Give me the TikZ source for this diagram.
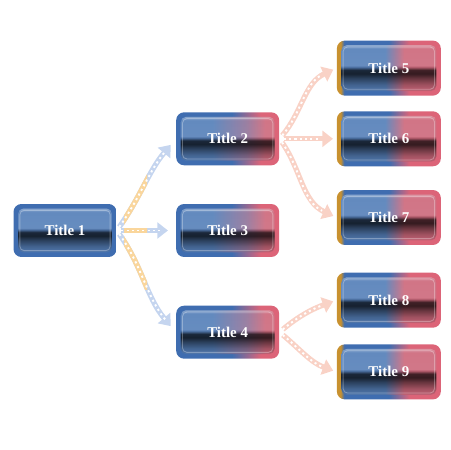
\documentclass[tikz,border=0pt]{standalone}
\usepackage{fontspec}
\setmainfont{Liberation Serif}
\usepackage{tikz}
\usetikzlibrary{arrows.meta,positioning}
\definecolor{rimblue}{HTML}{3F6DB0}
\definecolor{inblue}{HTML}{5A86C2}
\definecolor{rimpink}{HTML}{DC6478}
\definecolor{inpink}{HTML}{D86E82}
\definecolor{rimgold}{HTML}{C8912F}
\definecolor{flowblue}{HTML}{C5D5EF}
\definecolor{floworange}{HTML}{FAD69C}
\definecolor{flowpink}{HTML}{F9D2C6}

\pgfdeclarehorizontalshading{rimplain}{100bp}{color(0bp)=(rimblue); color(100bp)=(rimblue)}
\pgfdeclarehorizontalshading{inplain}{100bp}{color(0bp)=(inblue); color(100bp)=(inblue)}
\pgfdeclarehorizontalshading{rimmix}{100bp}{color(0bp)=(rimblue); color(25bp)=(rimblue); color(52bp)=(rimblue); color(66bp)=(rimpink); color(100bp)=(rimpink)}
\pgfdeclarehorizontalshading{inmix}{100bp}{color(0bp)=(inblue); color(25bp)=(inblue); color(42bp)=(inblue); color(60bp)=(inblue!50!inpink); color(70bp)=(inpink); color(100bp)=(inpink)}
\pgfdeclarehorizontalshading{rimedge}{100bp}{color(0bp)=(rimgold); color(25bp)=(rimgold); color(26.8bp)=(rimgold); color(28.5bp)=(rimblue); color(50bp)=(rimblue); color(60bp)=(rimpink); color(100bp)=(rimpink)}
\pgfdeclarehorizontalshading{inedge}{100bp}{color(0bp)=(inblue); color(25bp)=(inblue); color(48bp)=(inblue); color(58bp)=(inpink); color(100bp)=(inpink)}
\pgfdeclareverticalshading{glossdark}{100bp}{color(0bp)=(white); color(25bp)=(white!90!black); color(32bp)=(white!74!black); color(39bp)=(white!48!black); color(44bp)=(white!25!black); color(48bp)=(white!30!black); color(51bp)=(white!80!black); color(53bp)=(white!95!black); color(100bp)=(white!95!black)}
\pgfdeclareverticalshading{glosslight}{100bp}{color(0bp)=(black); color(51bp)=(black); color(53bp)=(white!10!black); color(71bp)=(white!8!black); color(75bp)=(white!30!black); color(100bp)=(white!30!black)}

\tikzset{
  titlebox/.style 2 args={rounded corners=4.5pt,minimum width=2.06cm,minimum height=1.06cm,
    shade,shading=#1,text=white,font=\bfseries\fontsize{8.5}{10}\selectfont,
    path picture={
      \coordinate (in sw) at ([shift={(2.6pt,2.6pt)}]path picture bounding box.south west);
      \coordinate (in ne) at ([shift={(-2.6pt,-2.6pt)}]path picture bounding box.north east);
      \shade[shading=#2,rounded corners=3pt] (in sw) rectangle (in ne);
      \shade[shading=glossdark,blend mode=multiply,rounded corners=3pt] (in sw) rectangle (in ne);
      \shade[shading=glosslight,blend mode=screen,rounded corners=3pt] (in sw) rectangle (in ne);
      \draw[white,opacity=0.3,line width=0.5pt,rounded corners=2.5pt]
        ([shift={(1pt,1pt)}]in sw) rectangle ([shift={(-1pt,-1pt)}]in ne);
    }},
  sidebox/.style={titlebox={rimedge}{inedge},minimum width=2.08cm,minimum height=1.1cm},
  flow/.style 2 args={line width=3pt,draw=#1,-{Triangle[length=6pt,width=9pt]},
    shorten <=2.5pt,shorten >=#2,
    postaction={draw=white,line width=1.1pt,dash pattern=on 1.2pt off 1.8pt,-,shorten >=9pt}}
}

\begin{document}
\begin{tikzpicture}[x=0.02cm,y=0.02cm,node distance=0.76cm and 1.18cm]
  \useasboundingbox (0,0) rectangle (450,450);
  % first level
  \node[titlebox={rimplain}{inplain}] (t1) at (65,219.5) {Title 1};
  \node[titlebox={rimmix}{inmix},right=1.18cm of t1] (t3) {Title 3};
  \node[titlebox={rimmix}{inmix},above=0.76cm of t3] (t2) {Title 2};
  \node[titlebox={rimmix}{inmix},below=0.96cm of t3] (t4) {Title 4};
  % second level
  \node[sidebox,right=1.14cm of t2] (t6) {Title 6};
  \node[sidebox,above=0.3cm of t6] (t5) {Title 5};
  \node[sidebox,below=0.46cm of t6] (t7) {Title 7};
  \node[sidebox,below=0.54cm of t7] (t8) {Title 8};
  \node[sidebox,below=0.32cm of t8] (t9) {Title 9};

  \draw[flow={flowblue}{4.5pt}] (t1.east) to[out=55,in=230] (t2.west);
  \draw[flow={flowblue}{4.5pt}] (t1.east) -- (t3.west);
  \draw[flow={flowblue}{4.5pt}] (t1.east) to[out=-55,in=130] (t4.west);
  \begin{scope}
    \clip (124,160) rectangle (147,290);
    \draw[flow={floworange}{4.5pt}] (t1.east) to[out=55,in=230] (t2.west);
    \draw[flow={floworange}{4.5pt}] (t1.east) -- (t3.west);
    \draw[flow={floworange}{4.5pt}] (t1.east) to[out=-55,in=130] (t4.west);
  \end{scope}

  \draw[flow={flowpink}{2pt}] (t2.east) to[out=50,in=205] (t5.west);
  \draw[flow={flowpink}{2pt}] (t2.east) -- (t6.west);
  \draw[flow={flowpink}{2pt}] (t2.east) to[out=-55,in=155] (t7.west);
  \draw[flow={flowpink}{2pt}] (t4.east) to[out=40,in=200] (t8.west);
  \draw[flow={flowpink}{2pt}] (t4.east) to[out=-40,in=160] (t9.west);
\end{tikzpicture}
\end{document}
